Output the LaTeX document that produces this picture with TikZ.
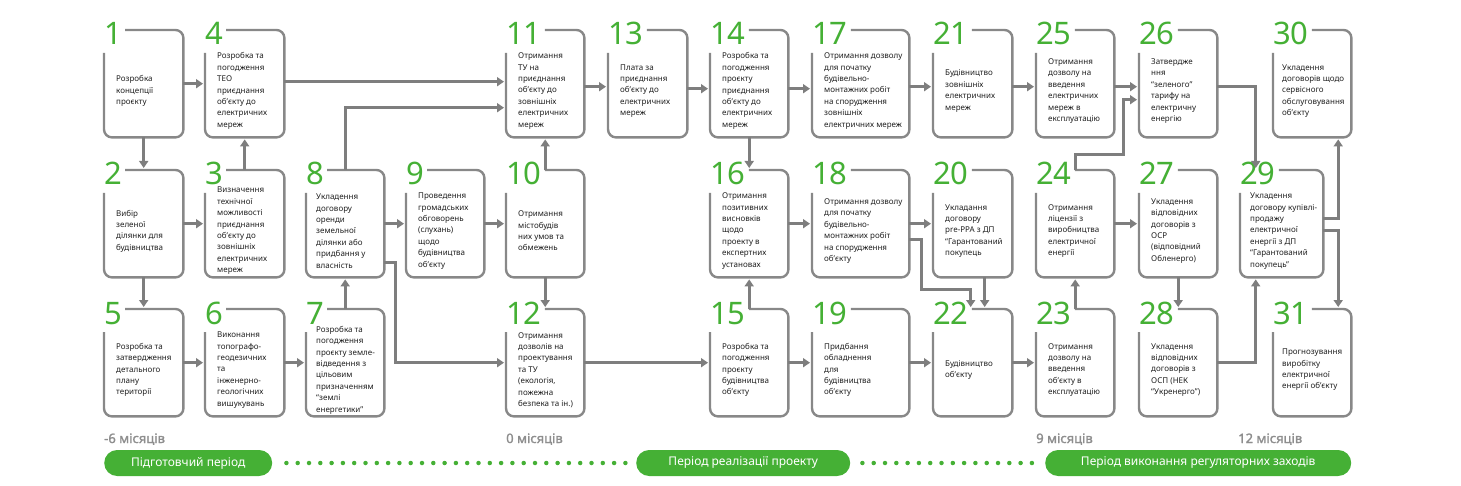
\documentclass[tikz,border=0pt]{standalone}
\usepackage{fontspec}
\setmainfont{Noto Sans}
\newfontfamily\monthfont{Noto Sans}[FakeBold=1.6]
\usetikzlibrary{arrows.meta}
\definecolor{stagegreen}{HTML}{45B035}
\definecolor{stagegray}{HTML}{888888}
\definecolor{flowgray}{HTML}{7E7E7E}
\definecolor{monthgray}{HTML}{8E8E8E}
\tikzset{
  stagebox/.style={rectangle, inner sep=0, minimum height=107},
  stagetext/.style={anchor=west, align=left, inner sep=0, text=black!88, font=\fontsize{8}{11.4}\selectfont},
  stagenum/.style={anchor=base west, inner sep=0, text=stagegreen, font=\fontsize{31}{31}\selectfont},
  stageline/.style={draw=stagegray, line width=2.4pt, rounded corners=8pt},
  flow/.style={draw=flowgray, line width=3pt, -{Triangle[width=9pt,length=7pt]}, shorten >=2pt},
  month/.style={anchor=base west, inner sep=0, text=monthgray, font=\fontsize{13}{13}\monthfont},
  phase/.style={rectangle, rounded corners=13pt, fill=stagegreen, text=white, minimum height=26, font=\fontsize{12}{12}\selectfont},
  phasedots/.style={draw=stagegreen, line width=4.5pt, line cap=round, dash pattern=on 0pt off 11.3pt},
}
% [text inset], number, left, top, width, text
\newcommand{\drawstage}[6][12]{%
  \node[stagebox, minimum width=#5, anchor=north west] (s#2) at (#3,#4) {};
  \node[stagenum] (n#2) at ([yshift=-15pt]s#2.north west) {#2};
  \node[stagetext] (t#2) at ([xshift=#1pt,yshift=-61pt]s#2.north west) {#6};
  \draw[stageline] ([yshift=-23pt]s#2.north west) -- (s#2.south west) -- (s#2.south east) -- (s#2.north east) -- ([xshift=3pt]n#2.east |- s#2.north);
}

\begin{document}
\begin{tikzpicture}[x=1pt, y=-1pt]
  \useasboundingbox (0,0) rectangle (1461,486);

  \drawstage{1}{104}{30}{79}{Розробка\\концепції\\проєкту}
  \drawstage{2}{104}{170}{79}{Вибір\\зеленої\\ділянки для\\будівництва}
  \drawstage{5}{104}{309}{79}{Розробка та\\затвердження\\детального\\плану\\території}
  \drawstage{4}{205}{30}{79}{Розробка та\\погодження\\ТЕО\\приєднання\\об’єкту до\\електричних\\мереж}
  \drawstage{3}{205}{170}{79}{Визначення\\технічної\\можливості\\приєднання\\об’єкту до\\зовнішніх\\електричних\\мереж}
  \drawstage{6}{205}{309}{79}{Виконання\\топографо-\\геодезичних\\та\\інженерно-\\геологічних\\вишукувань}
  \drawstage[10]{8}{306}{170}{78}{Укладення\\договору\\оренди\\земельної\\ділянки або\\придбання у\\власність}
  \drawstage[10]{7}{306}{309}{78}{Розробка та\\погодження\\проєкту земле-\\відведення з\\цільовим\\призначенням\\“землі\\енергетики”}
  \drawstage{9}{406}{170}{78}{Проведення\\громадських\\обговорень\\(слухань)\\щодо\\будівництва\\об’єкту}
  \drawstage{11}{506}{30}{78}{Отримання\\ТУ на\\приєднання\\об’єкту до\\зовнішніх\\електричних\\мереж}
  \drawstage{10}{506}{170}{78}{Отримання\\містобудів\\них умов та\\обмежень}
  \drawstage{12}{506}{309}{78}{Отримання\\дозволів на\\проектування\\та ТУ\\(екологія,\\пожежна\\безпека та ін.)}
  \drawstage{13}{608}{30}{79}{Плата за\\приєднання\\об’єкту до\\електричних\\мереж}
  \drawstage{14}{710}{30}{78}{Розробка та\\погодження\\проєкту\\приєднання\\об’єкту до\\електричних\\мереж}
  \drawstage{16}{710}{170}{78}{Отримання\\позитивних\\висновків\\щодо\\проекту в\\експертних\\установах}
  \drawstage{15}{710}{309}{78}{Розробка та\\погодження\\проєкту\\будівництва\\об’єкту}
  \drawstage{17}{812}{30}{97}{Отримання дозволу\\для початку\\будівельно-\\монтажних робіт\\на спорудження\\зовнішніх\\електричних мереж}
  \drawstage{18}{812}{170}{97}{Отримання дозволу\\для початку\\будівельно-\\монтажних робіт\\на спорудження\\об’єкту}
  \drawstage{19}{812}{309}{97}{Придбання\\обладнення\\для\\будівництва\\об’єкту}
  \drawstage{21}{933}{30}{79}{Будівництво\\зовнішніх\\електричних\\мереж}
  \drawstage{20}{933}{170}{79}{Укладання\\договору\\pre-PPA з ДП\\“Гарантований\\покупець}
  \drawstage{22}{933}{309}{79}{Будівництво\\об’єкту}
  \drawstage{25}{1036}{30}{78}{Отримання\\дозволу на\\введення\\електричних\\мереж в\\експлуатацію}
  \drawstage{24}{1036}{170}{78}{Отримання\\ліцензії з\\виробництва\\електричної\\енергії}
  \drawstage{23}{1036}{309}{78}{Отримання\\дозволу на\\введення\\об’єкту в\\експлуатацію}
  \drawstage{26}{1139}{30}{78}{Затвердже\\ння\\“зеленого”\\тарифу на\\електричну\\енергію}
  \drawstage{27}{1139}{170}{78}{Укладення\\відповідних\\договорів з\\ОСР\\(відповідний\\Обленерго)}
  \drawstage{28}{1139}{309}{78}{Укладення\\відповідних\\договорів з\\ОСП (НЕК\\“Укренерго”)}
  \drawstage[9]{30}{1273}{30}{78}{Укладення\\договорів щодо\\сервісного\\обслуговування\\об’єкту}
  \drawstage[10]{29}{1240}{170}{83}{Укладення\\договору купівлі-\\продажу\\електричної\\енергії з ДП\\“Гарантований\\покупець”}
  \drawstage[9]{31}{1273}{309}{78}{Прогнозування\\виробітку\\електричної\\енергії об’єкту}

  \draw[flow] (s1.east) -- (s4.west);
  \draw[flow] (s1.south) -- (s2.north);
  \draw[flow] (s2.east) -- (s3.west);
  \draw[flow] (s2.south) -- (s5.north);
  \draw[flow] (s3.north) -- (s4.south);
  \draw[flow] (s5.east) -- (s6.west);
  \draw[flow] (s6.east) -- (s7.west);
  \draw[flow] (s7.north) -- (s8.south);
  \draw[flow] ([yshift=2pt]s4.east) -- ([yshift=2pt]s11.west);
  \draw[flow] (s8.north) |- ([yshift=-24pt]s11.west);
  \draw[flow] (s8.east) -- (s9.west);
  \draw[flow] ([yshift=-39pt]s8.east) -- ++(11,0) |- (s12.west);
  \draw[flow] (s9.east) -- (s10.west);
  \draw[flow] (s10.north) -- (s11.south);
  \draw[flow] (s10.south) -- (s12.north);
  \draw[flow] ([yshift=-3pt]s11.east) -- ([yshift=-3pt]s13.west);
  \draw[flow] ([yshift=-5pt]s13.east) -- ([yshift=-5pt]s14.west);
  \draw[flow] ([yshift=-5pt]s14.east) -- ([yshift=-5pt]s17.west);
  \draw[flow] (s14.south) -- (s16.north);
  \draw[flow] (s12.east) -- (s15.west);
  \draw[flow] (s15.north) -- (s16.south);
  \draw[flow] (s16.east) -- (s18.west);
  \draw[flow] (s15.east) -- (s19.west);
  \draw[flow] ([yshift=-3pt]s17.east) -- ([yshift=-3pt]s21.west);
  \draw[flow] (s18.east) -- (s20.west);
  \draw[flow] ([yshift=-16pt]s18.east) -- ++(12,0) -- ++(0,50) -| ([xshift=-2pt]s22.north);
  \draw[flow] ([xshift=12pt]s20.south) -- ([xshift=12pt]s22.north);
  \draw[flow] (s19.east) -- (s22.west);
  \draw[flow] ([yshift=-3pt]s21.east) -- ([yshift=-3pt]s25.west);
  \draw[flow] (s22.east) -- (s23.west);
  \draw[flow] (s23.north) -- (s24.south);
  \draw[flow] (s24.north) -- ++(0,-15) -| ([xshift=-16pt,yshift=-16pt]s26.west) -- ([yshift=-16pt]s26.west);
  \draw[flow] ([yshift=-3pt]s25.east) -- ([yshift=-3pt]s26.west);
  \draw[flow] (s24.east) -- (s27.west);
  \draw[flow] (s27.south) -- (s28.north);
  \draw[flow] ([yshift=-3pt]s26.east) -| ([xshift=-26pt]s29.north);
  \draw[flow] (s28.east) -| ([xshift=-26pt]s29.south);
  \draw[flow] ([yshift=5pt]s29.east) -| ([xshift=26pt]s30.south);
  \draw[flow] ([yshift=-7pt]s29.east) -| ([xshift=26pt]s31.north);

  \node[month] (m1) at (104,443) {-6 місяців};
  \node[month] (m2) at (506,443) {0 місяців};
  \node[month] (m3) at (1036,443) {9 місяців};
  \node[month] (m4) at (1238,443) {12 місяців};

  \node[phase, minimum width=168, anchor=west] (p1) at (104,463) {Підготовчий період};
  \node[phase, minimum width=214, anchor=west] (p2) at (636,463) {Період реалізації проекту};
  \node[phase, minimum width=306, anchor=west] (p3) at (1045,463) {Період виконання регуляторних заходів};
  \draw[phasedots] ([xshift=14pt]p1.east) -- ([xshift=-10pt]p2.west);
  \draw[phasedots] ([xshift=12pt]p2.east) -- ([xshift=-12pt]p3.west);
\end{tikzpicture}
\end{document}
